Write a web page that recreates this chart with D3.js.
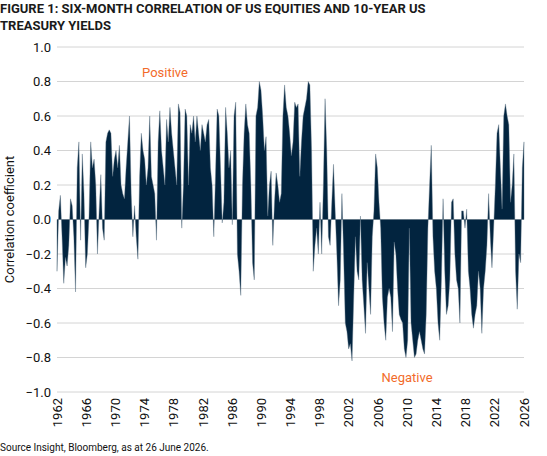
<!DOCTYPE html>
<html><head><meta charset="utf-8">
<script src="https://cdn.jsdelivr.net/npm/d3@7"></script>
<style>body{margin:0;background:#fff;font-family:Roboto,"Open Sans",sans-serif}</style>
</head><body><svg></svg>
<script>
const startYear = 1962, endYear = 2026;
const yTicks = [1.0, 0.8, 0.6, 0.4, 0.2, 0.0, -0.2, -0.4, -0.6, -0.8, -1.0];
const xTicks = d3.range(1962, 2027, 4);
// six-month correlation (~every 2.7 months)
const corr = [
 -0.3,0.05,0.14,-0.1,-0.37,-0.22,-0.27,-0.15,0.12,0.08,-0.1,-0.42,0.3,0.45,-0.12,0.38,0.15,-0.28,-0.2,0.02,
 0.45,0.3,0.35,0.2,-0.2,0.05,0.26,-0.05,-0.12,0.45,0.5,0.52,0.5,0.25,0.35,0.4,0.3,0.43,0.2,0.15,
 0.12,0.3,0.45,0.6,0.15,-0.1,0.08,-0.1,-0.23,0.25,0.5,0.4,0.35,0.2,0.3,0.6,0.25,0.2,0.15,-0.12,
 0.45,0.63,0.4,0.3,0.2,0.58,0.45,0.65,0.5,0.4,0.3,0.2,0.67,0.62,-0.05,0.2,0.64,0.6,0.2,0.55,
 0.5,0.6,0.45,0.6,0.5,0.4,0.55,0.5,0.45,0.55,0.58,0.3,0.2,-0.1,0.25,0.64,0.6,0.3,-0.02,0.1,
 0.65,0.5,0.3,0.4,-0.03,0.6,0.68,-0.2,-0.3,-0.44,0.2,0.5,0.67,0.55,0.5,0.2,-0.25,-0.35,0.6,0.65,
 0.8,0.75,0.6,0.4,0.48,0.02,0.2,0.28,-0.15,0.1,0.27,0.2,0.1,0.15,0.6,0.78,0.65,0.6,0.5,0.37,
 0.45,0.68,0.65,0.67,0.25,0.45,0.6,0.65,0.7,0.8,0.78,0.4,-0.3,-0.15,-0.05,-0.2,0.1,-0.2,0.2,0.7,
 0.4,-0.1,-0.15,0.1,0.32,0.05,-0.2,-0.5,-0.35,0.15,-0.2,-0.6,-0.65,-0.75,-0.72,-0.82,-0.45,-0.1,-0.3,-0.35,
 0.02,-0.35,-0.5,-0.66,-0.25,-0.4,-0.55,-0.1,0.05,0.38,0.3,0.1,-0.05,-0.45,-0.6,-0.7,-0.45,-0.4,-0.45,-0.65,
 -0.13,-0.2,-0.4,-0.55,-0.58,-0.6,-0.75,-0.8,-0.7,-0.05,-0.6,-0.7,-0.8,-0.78,-0.7,-0.65,-0.7,-0.75,-0.78,-0.55,
 -0.05,0.2,0.43,-0.1,-0.3,-0.4,-0.6,-0.7,-0.35,0.12,-0.3,-0.55,-0.5,-0.35,0.1,0.12,-0.2,-0.35,-0.4,-0.6,
 0.05,0.05,-0.05,0.06,-0.3,-0.4,-0.55,-0.63,-0.55,-0.5,-0.3,-0.4,-0.66,-0.4,-0.3,-0.15,0.15,-0.1,-0.28,-0.05,
 0.2,0.5,0.55,0.3,0.06,0.6,0.67,0.6,0.55,0.1,0.2,0.38,-0.3,-0.52,-0.2,-0.25,0.3,0.45
];

const width = 547, height = 456;
const m = {left: 57, right: 23, top: 47, bottom: 64};
const svg = d3.select("svg").attr("width", width).attr("height", height);
const step = (endYear - startYear) / (corr.length - 1);
const data = corr.map((v, i) => ({t: startYear + i * step, v}));

const x = d3.scaleLinear().domain([startYear, endYear]).range([m.left, width - m.right]);
const y = d3.scaleLinear().domain([-1, 1]).range([height - m.bottom, m.top]);

svg.append("g").selectAll("line").data(yTicks).join("line")
  .attr("x1", m.left).attr("x2", width - m.right)
  .attr("y1", d => y(d)).attr("y2", d => y(d))
  .attr("stroke", "#d4d4d4").attr("stroke-width", 1);

svg.append("path").datum(data)
  .attr("d", d3.area().x(d => x(d.t)).y0(y(0)).y1(d => y(d.v)))
  .attr("fill", "#02243f").attr("stroke", "#5d7387").attr("stroke-width", 0.4);

svg.append("g").selectAll("text").data(yTicks).join("text")
  .attr("x", m.left - 6).attr("y", d => y(d)).attr("dy", "0.35em")
  .attr("text-anchor", "end").attr("font-size", 13).attr("fill", "#111")
  .text(d => d3.format(".1f")(d));

svg.append("g").selectAll("text").data(xTicks).join("text")
  .attr("transform", d => `translate(${x(d)},${height - m.bottom + 6}) rotate(-90)`)
  .attr("dy", "0.35em").attr("text-anchor", "end").attr("font-size", 13).attr("fill", "#111")
  .text(d => d);

svg.append("text").attr("transform", `translate(14,${y(0)}) rotate(-90)`)
  .attr("text-anchor", "middle").attr("font-size", 13).attr("fill", "#111")
  .text("Correlation coefficient");

svg.append("text").attr("x", 165).attr("y", 77).attr("text-anchor", "middle")
  .attr("font-size", 13).attr("fill", "#f26b2a").text("Positive");
svg.append("text").attr("x", 407).attr("y", 382).attr("text-anchor", "middle")
  .attr("font-size", 13).attr("fill", "#f26b2a").text("Negative");

const title = svg.append("text").attr("x", 0).attr("font-size", 13).attr("font-weight", "bold").attr("fill", "#1a1a1a");
title.append("tspan").attr("x", 0).attr("y", 13).text("FIGURE 1: SIX-MONTH CORRELATION OF US EQUITIES AND 10-YEAR US");
title.append("tspan").attr("x", 0).attr("y", 30).text("TREASURY YIELDS");

svg.append("text").attr("x", 0).attr("y", 451).attr("font-size", 10).attr("fill", "#111")
  .text("Source Insight, Bloomberg, as at 26 June 2026.");
</script></body></html>
